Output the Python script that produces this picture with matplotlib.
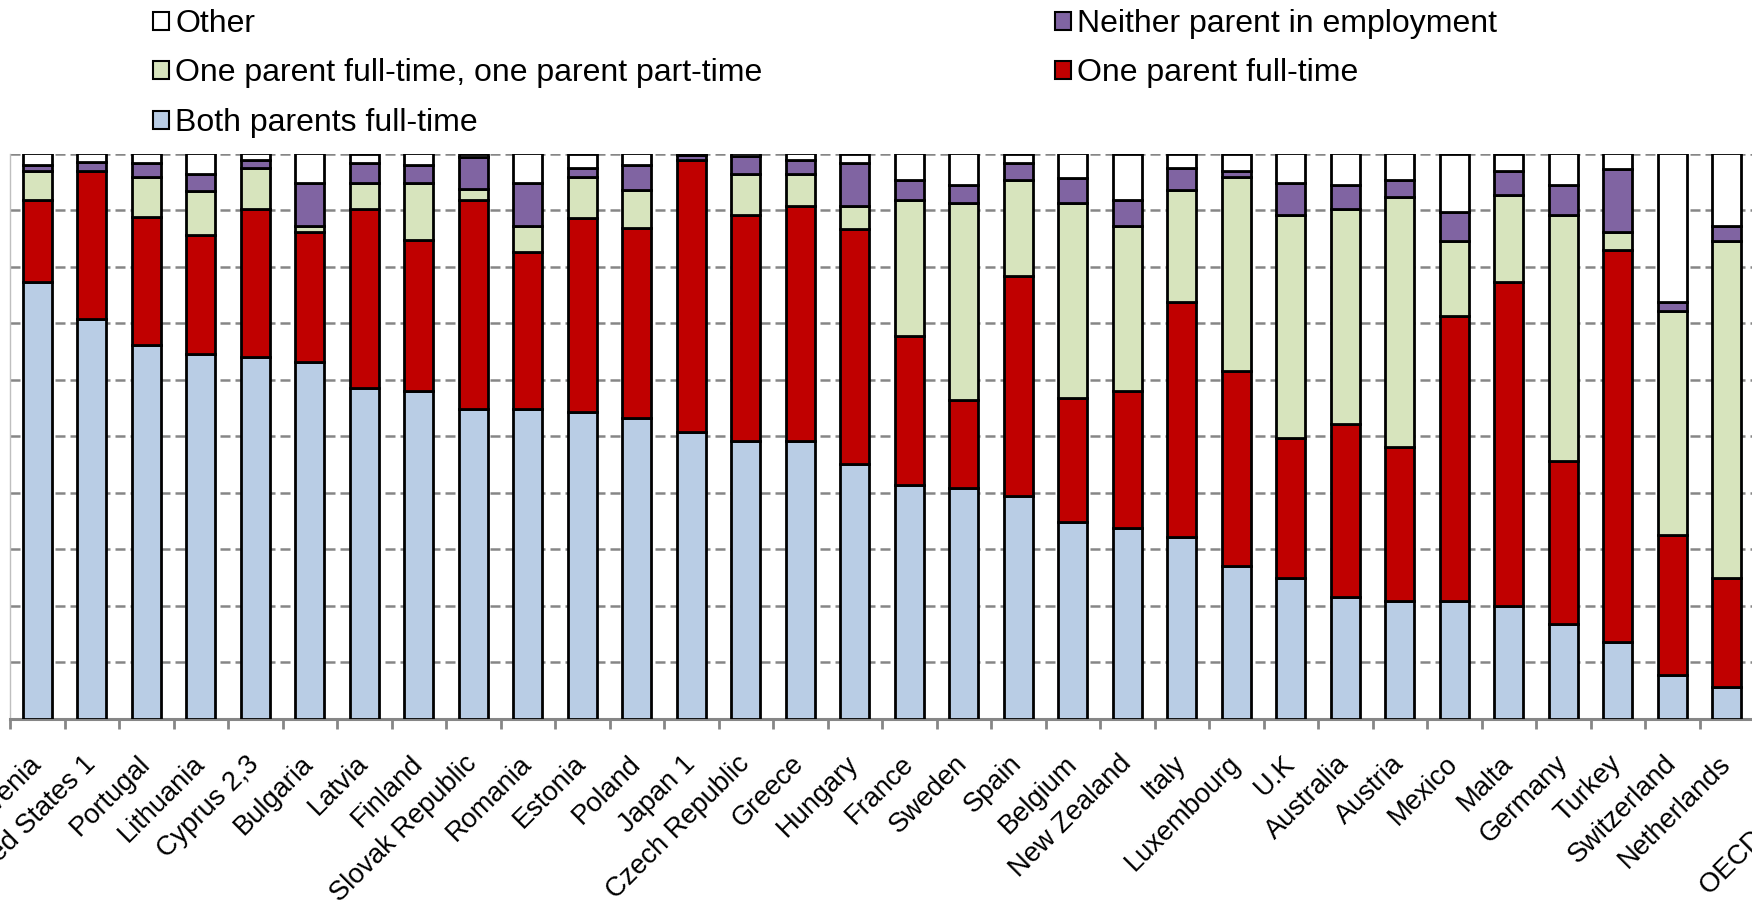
import matplotlib.pyplot as plt
import numpy as np
from matplotlib.patches import Patch

# categories (left to right), OECD average sits after a blank slot
countries = ['Slovenia', 'United States 1', 'Portugal', 'Lithuania', 'Cyprus 2,3', 'Bulgaria',
             'Latvia', 'Finland', 'Slovak Republic', 'Romania', 'Estonia', 'Poland', 'Japan 1',
             'Czech Republic', 'Greece', 'Hungary', 'France', 'Sweden', 'Spain', 'Belgium',
             'New Zealand', 'Italy', 'Luxembourg', 'U.K', 'Australia', 'Austria', 'Mexico',
             'Malta', 'Germany', 'Turkey', 'Switzerland', 'Netherlands', 'OECD average']

# shares in %
both_ft = [77.3, 70.7, 66.1, 64.5, 64.1, 63.1, 58.5, 58.0, 54.8, 54.8, 54.3, 53.2, 50.7, 49.1,
           49.1, 45.1, 41.4, 40.9, 39.5, 34.8, 33.7, 32.2, 27.1, 25.0, 21.5, 20.9, 20.9, 19.9,
           16.8, 13.6, 7.7, 5.7, 43.0]
one_ft = [14.5, 26.2, 22.6, 21.1, 26.1, 23.1, 31.6, 26.7, 37.0, 27.7, 34.3, 33.7, 48.2, 40.1,
          41.6, 41.5, 26.3, 15.5, 38.8, 22.0, 24.3, 41.6, 34.4, 24.7, 30.7, 27.2, 50.3, 57.4,
          28.8, 69.4, 24.9, 19.2, 30.0]
ft_pt = [5.1, 0.0, 7.1, 7.7, 7.2, 0.9, 4.7, 10.1, 2.0, 4.6, 7.2, 6.7, 0.0, 7.1,
         5.7, 4.1, 24.0, 34.8, 17.0, 34.4, 29.1, 19.8, 34.3, 39.5, 37.9, 44.2, 13.4, 15.3,
         43.5, 3.1, 39.6, 59.7, 17.0]
neither = [1.1, 1.6, 2.5, 3.1, 1.5, 7.7, 3.6, 3.2, 5.6, 7.7, 1.6, 4.3, 0.9, 3.2,
           2.5, 7.7, 3.7, 3.2, 3.1, 4.5, 4.6, 3.8, 1.1, 5.6, 4.3, 3.0, 5.1, 4.3,
           5.3, 11.2, 1.6, 2.5, 5.0]
other = [2.0, 1.5, 1.7, 3.6, 1.1, 5.2, 1.6, 2.0, 0.6, 5.2, 2.6, 2.1, 0.2, 0.5,
         1.1, 1.6, 4.6, 5.6, 1.6, 4.3, 8.3, 2.6, 3.1, 5.2, 5.6, 4.7, 10.3, 3.1,
         5.6, 2.7, 26.2, 12.9, 5.0]

labels = ['Both parents full-time', 'One parent full-time',
          'One parent full-time, one parent part-time', 'Neither parent in employment', 'Other']
series = [both_ft, one_ft, ft_pt, neither, other]
colors = ['#B9CDE5', '#C00000', '#D7E4BD', '#8064A2', '#FFFFFF']

plt.rcParams['font.family'] = ['Liberation Sans', 'DejaVu Sans']

W, H = 1752, 906
fig = plt.figure(figsize=(W / 100, H / 100), dpi=100)
slot = 54.5
nslots = len(countries) + 1
y_top, y_zero = 153.5, 719
ax = fig.add_axes([10 / W, 1 - y_zero / H, nslots * slot / W, (y_zero - y_top) / H])

x = np.arange(len(countries), dtype=float)
x[-1] += 1  # gap before OECD average

bottom = np.zeros(len(x))
for vals, col in zip(series, colors):
    ax.bar(x, vals, 0.53, bottom=bottom, color=col, edgecolor='black', linewidth=2, zorder=3)
    bottom += np.array(vals)

ax.set_xlim(-0.5, nslots - 0.5)
ax.set_ylim(0, 100)
ax.set_yticks(np.arange(0, 101, 10))
ax.set_yticklabels([])
ax.tick_params(axis='y', length=0)
ax.yaxis.grid(True, color='#868686', linestyle=(0, (4, 2)), linewidth=1.8)
ax.set_axisbelow(True)

for s in ['top', 'right']:
    ax.spines[s].set_visible(False)
ax.spines['left'].set_color('#BFBFBF')
ax.spines['left'].set_linewidth(1)
ax.spines['bottom'].set_color('#868686')
ax.spines['bottom'].set_linewidth(2.2)

ax.set_xticks(x)
ax.set_xticklabels(countries, rotation=45, ha='right', va='center', rotation_mode='anchor',
                   fontsize=19.6)
ax.tick_params(axis='x', which='major', length=0, pad=29.5)
ax.set_xticks(np.arange(-0.5, nslots, 1), minor=True)
ax.tick_params(axis='x', which='minor', length=7, width=2, color='#868686')

# legend: two columns, filled row by row like the original
order = [4, 2, 0, 3, 1]
handles = [Patch(facecolor=colors[i], edgecolor='black', linewidth=1.5) for i in order]
fig.legend(handles, [labels[i] for i in order], loc='upper left',
           bbox_to_anchor=(153 / W, 1 - 9 / H), ncol=2, frameon=False, fontsize=23,
           handlelength=0.5, handleheight=0.5, handletextpad=0.2, columnspacing=9.15,
           labelspacing=0.61, borderpad=0, borderaxespad=0)

fig.savefig('out.png', dpi=100)
